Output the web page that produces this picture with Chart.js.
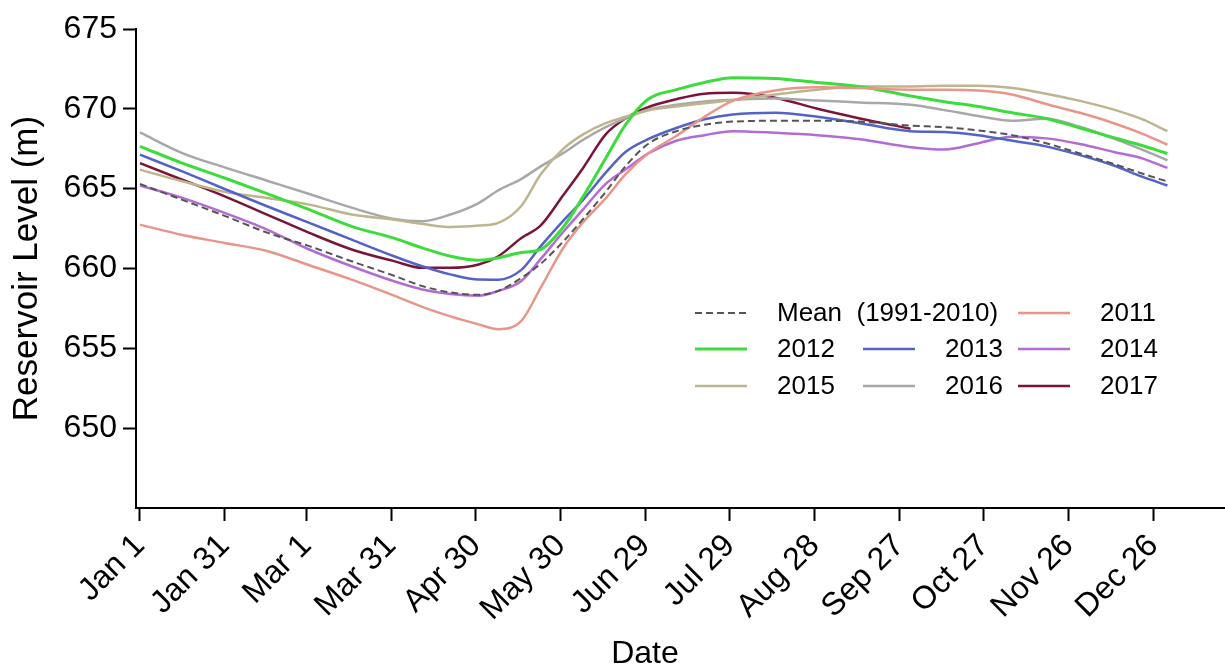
<!DOCTYPE html>
<html>
<head>
<meta charset="utf-8">
<script src="https://cdn.jsdelivr.net/npm/chart.js@4.4.0/dist/chart.umd.min.js"></script>
<style>
  html, body { margin: 0; padding: 0; background: #fff; }
  #wrap { width: 1225px; height: 670px; }
</style>
</head>
<body>
<div id="wrap"><canvas id="levelChart" width="1225" height="670"></canvas></div>
<script>
// day of year (0 = Jan 1) for every reading below
const days = [0, 15, 30, 45, 60, 75, 90, 100, 110, 120, 127, 135, 142, 150, 157, 165, 172, 180, 190, 200, 210, 225, 240, 255, 273, 285, 297, 309, 321, 333, 345, 355, 364];

const levelMean = [665.3, 664.3, 663.3, 662.25, 661.4, 660.45, 659.55, 658.9, 658.5, 658.35, 658.6, 659.4, 660.3, 661.7, 663.1, 664.8, 666.4, 667.8, 668.6, 669.0, 669.2, 669.25, 669.25, 669.2, 668.95, 668.85, 668.65, 668.35, 667.85, 667.2, 666.55, 665.95, 665.45];
const level2011 = [662.75, 662.1, 661.6, 661.1, 660.2, 659.3, 658.3, 657.6, 657.0, 656.5, 656.2, 656.7, 658.8, 661.3, 662.9, 664.4, 665.9, 667.2, 668.3, 669.5, 670.5, 671.15, 671.35, 671.3, 671.2, 671.2, 671.15, 670.9, 670.3, 669.75, 669.1, 668.45, 667.75];
const level2012 = [667.65, 666.6, 665.67, 664.69, 663.69, 662.64, 661.9, 661.29, 660.77, 660.52, 660.67, 661.0, 661.2, 662.6, 664.5, 666.9, 669.0, 670.6, 671.2, 671.65, 671.95, 671.9, 671.65, 671.4, 670.8, 670.45, 670.15, 669.75, 669.4, 668.8, 668.2, 667.7, 667.2];
const level2013 = [667.13, 666.08, 664.98, 663.9, 662.86, 661.81, 660.77, 660.14, 659.63, 659.31, 659.3, 659.9, 661.4, 663.0, 664.3, 666.0, 667.3, 668.1, 668.8, 669.35, 669.65, 669.75, 669.5, 669.1, 668.6, 668.55, 668.35, 668.0, 667.65, 667.1, 666.45, 665.75, 665.2];
const level2014 = [665.2, 664.42, 663.48, 662.44, 661.19, 660.14, 659.2, 658.69, 658.4, 658.3, 658.6, 659.2, 660.6, 662.3, 663.7, 665.3, 666.2, 667.2, 668.0, 668.35, 668.6, 668.5, 668.35, 668.1, 667.6, 667.45, 667.85, 668.25, 668.15, 667.8, 667.3, 666.9, 666.3];
const level2015 = [666.19, 665.46, 664.8, 664.42, 664.0, 663.38, 663.06, 662.8, 662.6, 662.69, 662.86, 663.9, 665.9, 667.5, 668.4, 669.1, 669.5, 669.9, 670.15, 670.35, 670.55, 670.9, 671.2, 671.4, 671.4, 671.45, 671.45, 671.3, 670.95, 670.5, 669.95, 669.35, 668.6];
const level2016 = [668.52, 667.23, 666.33, 665.5, 664.67, 663.81, 663.1, 662.96, 663.38, 664.1, 664.9, 665.6, 666.4, 667.23, 668.06, 668.85, 669.4, 669.94, 670.25, 670.46, 670.56, 670.65, 670.52, 670.4, 670.25, 669.92, 669.55, 669.25, 669.38, 668.88, 668.13, 667.45, 666.78];
const level2017 = [666.6, 665.56, 664.52, 663.38, 662.23, 661.19, 660.46, 660.04, 660.04, 660.25, 660.77, 661.9, 662.7, 664.6, 666.3, 668.4, 669.4, 670.1, 670.6, 670.95, 671.0, 670.7, 670.0, 669.4, 668.75, null, null, null, null, null, null, null, null];

const tickDays = [0, 30, 59, 89, 119, 149, 179, 209, 239, 269, 299, 329, 359];
const tickLabels = ['Jan 1', 'Jan 31', 'Mar 1', 'Mar 31', 'Apr 30', 'May 30', 'Jun 29', 'Jul 29', 'Aug 28', 'Sep 27', 'Oct 27', 'Nov 26', 'Dec 26'];
const yTicks = [650, 655, 660, 665, 670, 675];

const FONT = '"Liberation Sans", Arial, sans-serif';

function series(label, values, color, width, dash) {
    return {
        label: label,
        data: days.map((d, i) => ({ x: d, y: values[i] })),
        borderColor: color,
        borderWidth: width,
        borderDash: dash || [],
        pointRadius: 0,
        fill: false,
        cubicInterpolationMode: 'monotone',
        spanGaps: false
    };
}

// legend slots: [row, col] for each dataset, in dataset order
const legendSlots = [[0, 0], [0, 2], [1, 0], [1, 1], [1, 2], [2, 0], [2, 1], [2, 2]];
const legendColX = [695, 863, 1018];
const legendRowY = [313, 349, 386];

const gridLegend = {
    id: 'gridLegend',
    afterDraw(chart) {
        const ctx = chart.ctx;
        ctx.save();
        ctx.font = '26px ' + FONT;
        ctx.textBaseline = 'middle';
        ctx.textAlign = 'left';
        chart.data.datasets.forEach((ds, i) => {
            const x = legendColX[legendSlots[i][1]];
            const y = legendRowY[legendSlots[i][0]];
            ctx.strokeStyle = ds.borderColor;
            ctx.lineWidth = ds.borderWidth;
            ctx.setLineDash(ds.borderDash);
            ctx.beginPath();
            ctx.moveTo(x, y);
            ctx.lineTo(x + 52, y);
            ctx.stroke();
            ctx.setLineDash([]);
            ctx.fillStyle = '#000';
            ctx.fillText(ds.label, x + 82, y + 1);
        });
        // x axis title sits left of the scale centre in the original
        ctx.font = '32px ' + FONT;
        ctx.textAlign = 'center';
        ctx.fillText('Date', 645, 654);
        ctx.restore();
    }
};

const ctx = document.getElementById('levelChart').getContext('2d');
const levelChart = new Chart(ctx, {
    type: 'line',
    data: {
        datasets: [
            series('Mean  (1991-2010)', levelMean, '#555555', 2, [7, 4]),
            series('2011', level2011, '#E8958A', 2.5),
            series('2012', level2012, '#3CDC3C', 3),
            series('2013', level2013, '#5363C6', 2.5),
            series('2014', level2014, '#B36CD2', 2.5),
            series('2015', level2015, '#BDB58E', 2.5),
            series('2016', level2016, '#A8A8A8', 2.5),
            series('2017', level2017, '#7A1438', 2.5)
        ]
    },
    options: {
        responsive: false,
        animation: false,
        layout: { padding: { top: 29, right: 0, bottom: 0, left: 0 } },
        plugins: {
            legend: { display: false },
            tooltip: { enabled: false }
        },
        scales: {
            x: {
                type: 'linear',
                min: -1.4,
                max: 384.4,
                afterBuildTicks: s => { s.ticks = tickDays.map(v => ({ value: v })); },
                afterFit: s => { s.height = 162; s.paddingLeft = 0; s.paddingRight = 0; },
                border: { color: '#000', width: 2 },
                grid: { drawOnChartArea: false, tickLength: 13, tickWidth: 2, tickColor: '#000' },
                ticks: {
                    autoSkip: false,
                    minRotation: 45,
                    maxRotation: 45,
                    color: '#000',
                    padding: 6,
                    font: { size: 32, family: FONT },
                    callback: (v, i) => tickLabels[i]
                },
                title: { display: false }
            },
            y: {
                type: 'linear',
                min: 645,
                max: 675,
                afterBuildTicks: s => { s.ticks = yTicks.map(v => ({ value: v })); },
                afterFit: s => { s.width = 136; s.paddingTop = 0; s.paddingBottom = 0; },
                border: { color: '#000', width: 2 },
                grid: { drawOnChartArea: false, tickLength: 13, tickWidth: 2, tickColor: '#000' },
                ticks: {
                    color: '#000',
                    padding: 6,
                    font: { size: 32, family: FONT }
                },
                title: {
                    display: true,
                    text: 'Reservoir Level (m)',
                    color: '#000',
                    font: { size: 35, family: FONT, lineHeight: 1.2 },
                    padding: { top: 6, bottom: 0 }
                }
            }
        }
    },
    plugins: [gridLegend]
});
</script>
</body>
</html>
